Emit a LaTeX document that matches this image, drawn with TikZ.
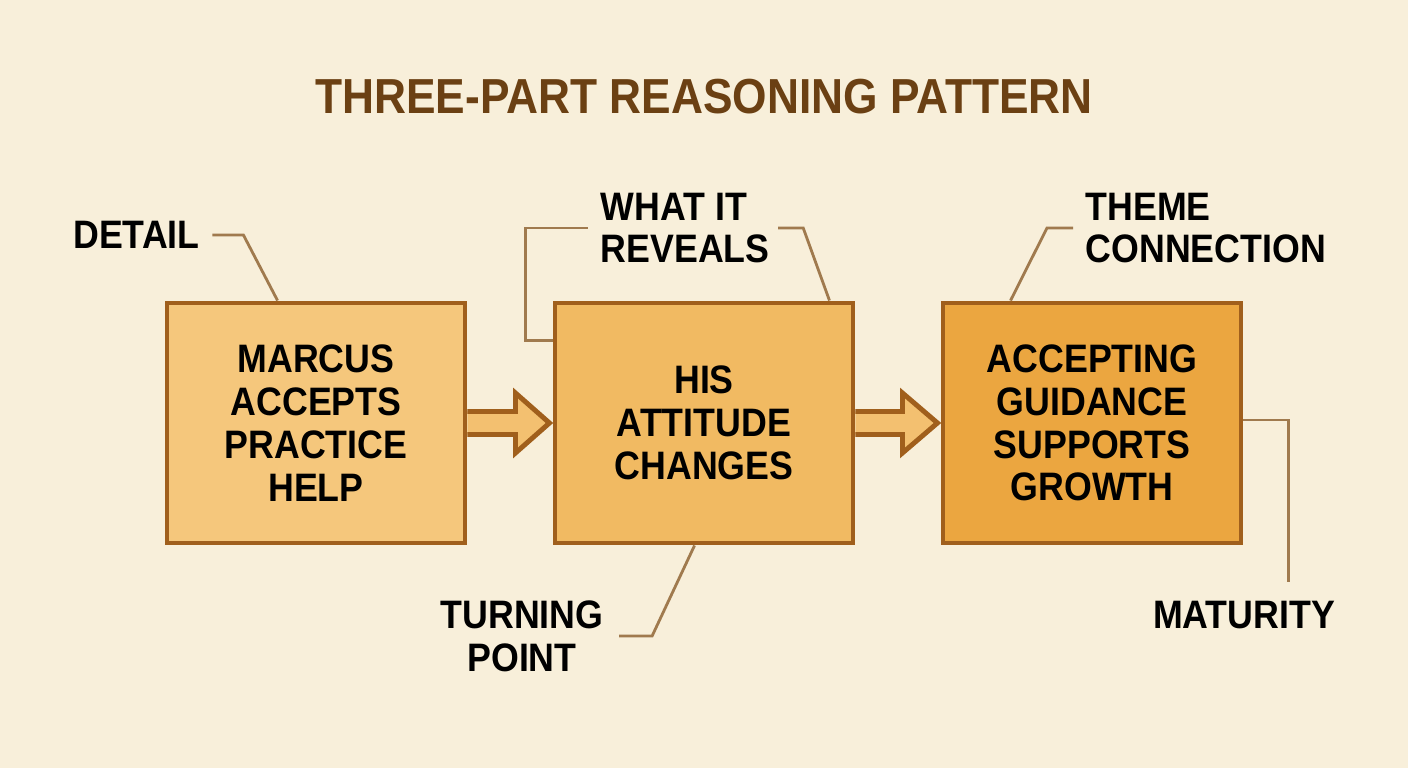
\documentclass[tikz,border=0pt]{standalone}
\usepackage{fontspec}
\setmainfont{Liberation Sans}[FakeStretch=0.9]
\usepackage{tikz}

\definecolor{bgc}{HTML}{F8EFDA}
\definecolor{boxline}{HTML}{A05F1C}
\definecolor{fillone}{HTML}{F5C77C}
\definecolor{filltwo}{HTML}{F1BA62}
\definecolor{fillthree}{HTML}{EBA640}
\definecolor{arrowc}{HTML}{F3C070}
\definecolor{leadc}{HTML}{A07A4E}
\definecolor{titlec}{HTML}{6B4013}

\begin{document}
\begin{tikzpicture}[
    box/.style={draw=boxline, line width=1.4pt, minimum width=2.98cm, minimum height=2.40cm,
        align=center, font=\fontsize{11.3}{12.2}\selectfont\bfseries},
    lbl/.style={inner sep=0pt, font=\fontsize{11.3}{12.2}\selectfont\bfseries},
    leader/.style={draw=leadc, line width=0.8pt},
    blockarrow/.style={fill=arrowc, draw=boxline, line width=1.4pt, line join=miter}
]
    \fill[bgc] (0,0) rectangle (14.08,7.68);
    \useasboundingbox (0,0) rectangle (14.08,7.68);

    \node[font=\fontsize{14}{16}\selectfont\bfseries, text=titlec] (title) at (7.04,6.71) {THREE-PART REASONING PATTERN};

    \node[box, fill=fillone] (b1) at (3.16,3.45) {MARCUS\\ACCEPTS\\PRACTICE\\HELP};
    \node[box, fill=filltwo] (b2) at (7.04,3.45) {HIS\\ATTITUDE\\CHANGES};
    \node[box, fill=fillthree] (b3) at (10.92,3.45) {ACCEPTING\\GUIDANCE\\SUPPORTS\\GROWTH};

    \filldraw[blockarrow] ([yshift=0.115cm]b1.east) -- ++(0.48,0) -- ++(0,0.185) -- ++(0.34,-0.30)
        -- ++(-0.34,-0.30) -- ++(0,0.185) -- ++(-0.48,0);
    \filldraw[blockarrow] ([yshift=0.115cm]b2.east) -- ++(0.47,0) -- ++(0,0.185) -- ++(0.35,-0.30)
        -- ++(-0.35,-0.30) -- ++(0,0.185) -- ++(-0.47,0);

    \node[lbl] (detail) at (1.365,5.33) {DETAIL};
    \node[lbl, anchor=west, align=left] (reveal) at (6.00,5.40) {WHAT IT\\REVEALS};
    \node[lbl, anchor=west, align=left] (theme) at (10.85,5.40) {THEME\\CONNECTION};
    \node[lbl, align=center] (turn) at (5.22,1.32) {TURNING\\POINT};
    \node[lbl] (maturity) at (12.44,1.53) {MATURITY};

    \draw[leader] ([xshift=0.12cm]detail.east) -- ++(0.31,0) -- ([xshift=1.13cm]b1.north west);
    \draw[leader] ([yshift=-0.40cm]b2.north west) -- ++(-0.27,0) |- ([xshift=-0.12cm]reveal.west);
    \draw[leader] ([xshift=0.08cm]reveal.east) -- ++(0.25,0) -- ([xshift=-0.26cm]b2.north east);
    \draw[leader] ([xshift=-0.12cm]theme.west) -- ++(-0.26,0) -- ([xshift=0.70cm]b3.north west);
    \draw[leader] ([xshift=0.15cm]turn.east) -- ++(0.33,0) -- ([xshift=1.42cm]b2.south west);
    \draw[leader] ([yshift=0.03cm]b3.east) -- ++(0.45,0) -- ++(0,-1.62);
\end{tikzpicture}
\end{document}
